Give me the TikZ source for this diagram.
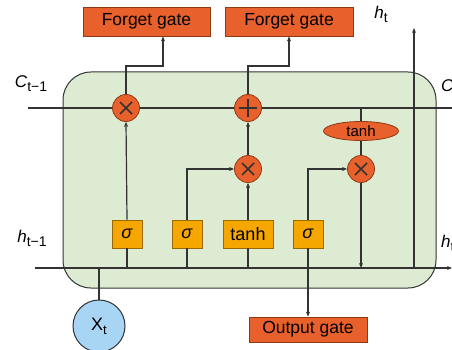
\documentclass[tikz,border=0pt]{standalone}
\usepackage{fontspec}
\setmainfont{Liberation Sans}
\usetikzlibrary{arrows.meta,shapes.geometric}
\definecolor{orng}{HTML}{E8612C}
\definecolor{orngd}{HTML}{8E3A14}
\definecolor{yel}{HTML}{F5A700}
\definecolor{yeld}{HTML}{9A6A00}
\definecolor{grn}{HTML}{DCEBD2}
\definecolor{blu}{HTML}{A9D5F5}
\definecolor{ln}{HTML}{333333}
\tikzset{
  line/.style={draw=ln, line width=1.2pt},
  arr/.style={line, -{Stealth[length=5pt,width=4pt]}},
  opcirc/.style={circle, fill=orng, draw=orngd, line width=0.8pt, minimum size=27pt, inner sep=0pt},
  gatebox/.style={rectangle, fill=orng, draw=orngd, line width=0.8pt, inner sep=0pt, font=\fontsize{17.5}{18}\selectfont},
  actbox/.style={rectangle, fill=yel, draw=yeld, line width=0.8pt, minimum height=28pt, inner sep=0pt, font=\fontsize{18}{18}\selectfont},
  sym/.style={draw=ln, line width=1.5pt},
  lbl/.style={font=\fontsize{17}{18}\selectfont, inner sep=0pt}
}
\begin{document}
\begin{tikzpicture}[x=1pt,y=-1pt]
\useasboundingbox (0,0) rectangle (452,350);
% cell
\draw[fill=grn, draw=ln, line width=1pt, rounded corners=28pt] (63,72) rectangle (436,288);
% nodes
\node[gatebox, minimum width=127pt, minimum height=29pt] (fg1) at (146.5,21.5) {Forget gate};
\node[gatebox, minimum width=128pt, minimum height=29pt] (fg2) at (289,21.5) {Forget gate};
\node[gatebox, minimum width=118pt, minimum height=25pt] (og) at (308,329.5) {Output gate};
\node[opcirc] (m1) at (126,108) {};
\node[opcirc] (p1) at (248,108) {};
\node[opcirc] (m2) at (248,169) {};
\node[opcirc] (m3) at (361,169) {};
\node[ellipse, fill=orng, draw=orngd, line width=0.8pt, minimum width=75pt, minimum height=19pt, inner sep=0pt, font=\fontsize{15}{15}\selectfont] (te) at (361,131) {tanh};
\node[actbox, minimum width=30pt] (s1) at (127,234) {\textit{σ}};
\node[actbox, minimum width=30pt] (s2) at (187,234) {\textit{σ}};
\node[actbox, minimum width=50pt] (tb) at (248,234) {tanh};
\node[actbox, minimum width=30pt] (s4) at (308,234) {\textit{σ}};
\node[circle, fill=blu, draw=ln, line width=1pt, minimum size=52pt, inner sep=0pt, font=\fontsize{18}{18}\selectfont] (xt) at (99,326) {X\raisebox{-4pt}{\fontsize{13}{13}\selectfont t}};
% symbols
\draw[sym] ([xshift=-6,yshift=-6]m1.center) -- ([xshift=6,yshift=6]m1.center);
\draw[sym] ([xshift=-6,yshift=6]m1.center) -- ([xshift=6,yshift=-6]m1.center);
\draw[sym] ([xshift=-6,yshift=-6]m2.center) -- ([xshift=6,yshift=6]m2.center);
\draw[sym] ([xshift=-6,yshift=6]m2.center) -- ([xshift=6,yshift=-6]m2.center);
\draw[sym] ([xshift=-6,yshift=-6]m3.center) -- ([xshift=6,yshift=6]m3.center);
\draw[sym] ([xshift=-6,yshift=6]m3.center) -- ([xshift=6,yshift=-6]m3.center);
\draw[sym] ([xshift=-9]p1.center) -- ([xshift=9]p1.center);
\draw[sym] ([yshift=-9]p1.center) -- ([yshift=9]p1.center);
% coordinates
\coordinate (cl) at (28,108);
\coordinate (cr) at (452,108);
\coordinate (hl) at (35,268);
\coordinate (hr) at (452,268);
\coordinate (k1) at (163,66);
\coordinate (k2) at (289,66);
\coordinate (hb) at (414,268);
\coordinate (ht) at (414,28);
% cell state line
\draw[line] (cl) -- (m1.west);
\draw[line] (m1.east) -- (p1.west);
\draw[line] (p1.east) -- (cr);
% hidden line
\draw[arr] (hl) -- (hr);
\draw[arr] (hb) -- (ht);
% to forget gate boxes
\draw[arr] (m1.north) |- (k1) -- (k1 |- fg1.south);
\draw[arr] (p1.north) |- (k2) -- (fg2.south);
% input
\draw[line] (xt.north) -- (xt.north |- hl);
% gates
\draw[line] (s1.south |- hl) -- (s1.south);
\draw[arr] (s1.north) -- (m1.south);
\draw[line] (s2.south |- hl) -- (s2.south);
\draw[arr] (s2.north) |- (m2.west);
\draw[line] (tb.south |- hl) -- (tb.south);
\draw[arr] (tb.north) -- (m2.south);
\draw[arr] (m2.north) -- (p1.south);
\draw[arr] (s4.south) -- (og.north);
\draw[arr] (s4.north) |- (m3.west);
\draw[line] (te.north |- cl) -- (te.north);
\draw[line] (te.south) -- (m3.north);
\draw[arr] (m3.south) -- (m3.south |- hl);
% labels
\node[lbl] (lc) at (31,84) {\textit{C}\raisebox{-4pt}{\fontsize{14}{14}\selectfont t−1}};
\node[lbl] (lh) at (32,238) {\textit{h}\raisebox{-4pt}{\fontsize{14}{14}\selectfont t−1}};
\node[lbl] (lht) at (381,14) {\textit{h}\raisebox{-4pt}{\fontsize{14}{14}\selectfont t}};
\node[lbl, anchor=west] (lct) at (441,88) {\textit{C}\raisebox{-4pt}{\fontsize{14}{14}\selectfont t}};
\node[lbl, anchor=west] (lhr) at (441,243) {\textit{h}\raisebox{-4pt}{\fontsize{14}{14}\selectfont t}};
\end{tikzpicture}
\end{document}
